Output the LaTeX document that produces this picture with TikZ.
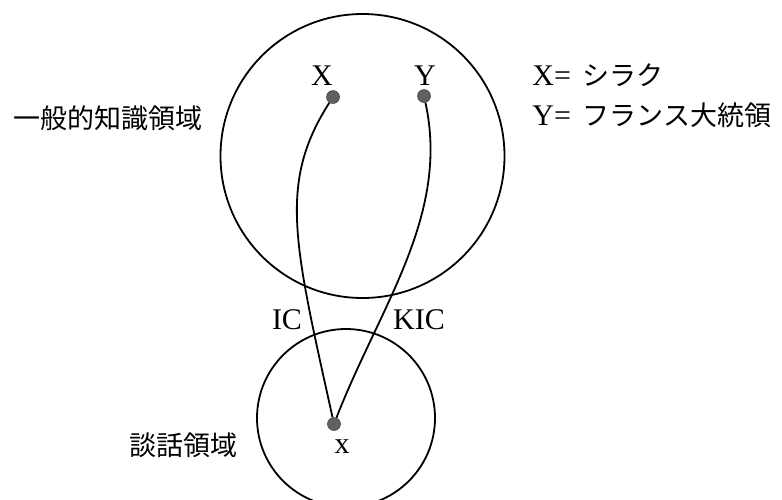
\documentclass[tikz,border=0pt]{standalone}
\usepackage{fontspec}
\setmainfont{Liberation Serif}
\newfontfamily\jp{Noto Sans CJK JP}
\definecolor{dotgray}{HTML}{606060}
\newcommand{\lat}{\fontsize{15}{17}\selectfont}
\newcommand{\cjk}{\jp\fontsize{13.5}{16}\selectfont}
\tikzset{
  dom/.style={circle,draw=black,line width=0.9pt,inner sep=0pt,minimum size=#1},
  pt/.style={circle,fill=dotgray,draw=black!70,line width=0.3pt,inner sep=0pt,minimum size=6.5pt},
  lnk/.style={black,line width=0.9pt},
  lab/.style={inner sep=0pt,font=\lat},
}

\begin{document}
\begin{tikzpicture}[x=0.5pt,y=-0.5pt]
\useasboundingbox (0,0) rectangle (782,499);

% --- the two domains --------------------------------------------------
\node[dom=142pt] (gen) at (362.5,156) {};
\node[dom=89pt]  (dis) at (346,418) {};

% --- referents ---------------------------------------------------------
\node[pt] (X) at (333,97) {};
\node[pt] (Y) at (424,96) {};
\node[pt] (x) at (334,424) {};
\node[lab] (Xl) at (322,76) {X};
\node[lab] (Yl) at (425,76) {Y};
\node[lab] (xl) at (342,447) {x};

% --- connectors ---------------------------------------------------------
\draw[lnk] (X) .. controls (278,183) and (294,243) .. (x);
\draw[lnk] (Y) .. controls (450,215) and (380,306) .. (x);
\node[lab] (ic)  at (287,320) {IC};
\node[lab] (kic) at (419,320) {KIC};

% --- domain names and key ---------------------------------------------
\node[anchor=east,inner sep=0pt,font=\cjk] (genl) at (203,118) {一般的知識領域};
\node[anchor=east,inner sep=0pt,font=\cjk] (disl) at (238,445) {談話領域};
\node[anchor=west,inner sep=0pt] (kx) at (532,75) {\lat X=\hspace{6pt}{\cjk シラク}};
\node[anchor=west,inner sep=0pt] (ky) at (532,115) {\lat Y=\hspace{6pt}{\cjk フランス大統領}};

\end{tikzpicture}
\end{document}
